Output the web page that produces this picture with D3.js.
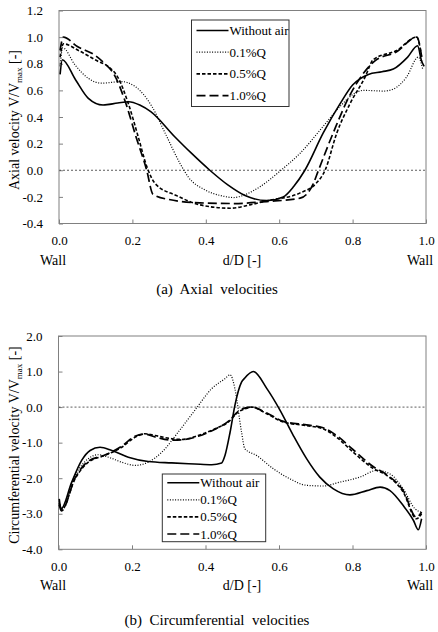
<!DOCTYPE html>
<html>
<head>
<meta charset="utf-8">
<script src="https://cdn.jsdelivr.net/npm/d3@7"></script>
<style>
    body { margin: 0; background: #fff; }
    svg { display: block; }
    svg text { font-family: "Liberation Serif", "Times New Roman", serif; fill: #000; }
</style>
</head>
<body>
<div id="chart"></div>
<script>
// ---- data ----
const xTicks = [0, 0.2, 0.4, 0.6, 0.8, 1.0];
const axialTicks = [-0.4, -0.2, 0, 0.2, 0.4, 0.6, 0.8, 1.0, 1.2];
const circTicks = [-4, -3, -2, -1, 0, 1, 2];
const seriesNames = ['Without air', '0.1%Q', '0.5%Q', '1.0%Q'];

const axialNoAir = [[0.003,0.72],[0.009,0.83],[0.045,0.68],[0.08,0.54],[0.12,0.49],[0.16,0.505],[0.19,0.515],[0.22,0.49],[0.25,0.44],[0.316,0.25],[0.36,0.13],[0.411,0.0],[0.46,-0.11],[0.507,-0.19],[0.566,-0.228],[0.611,-0.2],[0.64,-0.12],[0.67,0.0],[0.72,0.28],[0.766,0.5],[0.80,0.64],[0.843,0.72],[0.88,0.74],[0.911,0.76],[0.95,0.85],[0.977,0.935],[0.988,0.82],[0.995,0.78]];
const axialAir01 = [[0.003,0.78],[0.01,0.92],[0.044,0.79],[0.08,0.69],[0.116,0.654],[0.17,0.666],[0.207,0.63],[0.253,0.48],[0.289,0.28],[0.33,0.05],[0.352,-0.05],[0.398,-0.148],[0.44,-0.19],[0.475,-0.205],[0.51,-0.18],[0.548,-0.123],[0.605,0.0],[0.657,0.128],[0.72,0.33],[0.766,0.48],[0.807,0.58],[0.83,0.60],[0.884,0.595],[0.911,0.61],[0.947,0.70],[0.979,0.85],[0.991,0.76]];
const axialAir05 = [[0.003,0.85],[0.012,0.95],[0.053,0.90],[0.107,0.817],[0.134,0.78],[0.162,0.69],[0.189,0.50],[0.216,0.25],[0.239,0.03],[0.262,-0.10],[0.32,-0.19],[0.384,-0.26],[0.466,-0.285],[0.52,-0.26],[0.566,-0.23],[0.657,-0.17],[0.70,-0.1],[0.725,0.0],[0.757,0.28],[0.793,0.5],[0.834,0.70],[0.856,0.83],[0.92,0.90],[0.975,1.0],[0.988,0.85]];
const axialAir10 = [[0.003,0.90],[0.012,1.0],[0.05,0.93],[0.10,0.86],[0.125,0.80],[0.15,0.72],[0.18,0.52],[0.21,0.25],[0.239,0.0],[0.256,-0.18],[0.30,-0.22],[0.384,-0.245],[0.475,-0.25],[0.566,-0.235],[0.657,-0.21],[0.693,-0.1],[0.707,0.0],[0.75,0.3],[0.79,0.55],[0.83,0.73],[0.86,0.82],[0.92,0.89],[0.975,1.0],[0.99,0.82]];

const circNoAir = [[0.002,-2.58],[0.007,-2.86],[0.036,-2.11],[0.063,-1.50],[0.086,-1.22],[0.113,-1.13],[0.145,-1.22],[0.19,-1.41],[0.244,-1.53],[0.308,-1.57],[0.371,-1.60],[0.417,-1.62],[0.444,-1.57],[0.453,-1.36],[0.467,-0.70],[0.48,0.05],[0.498,0.70],[0.507,0.82],[0.53,1.0],[0.567,0.52],[0.603,-0.09],[0.639,-0.80],[0.675,-1.45],[0.711,-1.97],[0.748,-2.30],[0.793,-2.47],[0.839,-2.35],[0.875,-2.25],[0.902,-2.35],[0.938,-2.77],[0.966,-3.19],[0.979,-3.45],[0.988,-3.14]];
const circAir01 = [[0.002,-2.65],[0.008,-2.85],[0.045,-1.92],[0.081,-1.45],[0.108,-1.34],[0.136,-1.41],[0.172,-1.55],[0.208,-1.64],[0.244,-1.55],[0.281,-1.27],[0.326,-0.70],[0.371,-0.09],[0.417,0.52],[0.453,0.80],[0.467,0.91],[0.48,0.52],[0.498,-0.70],[0.507,-1.17],[0.539,-1.36],[0.584,-1.73],[0.63,-2.02],[0.675,-2.20],[0.72,-2.22],[0.766,-2.11],[0.82,-1.97],[0.866,-1.78],[0.902,-1.88],[0.938,-2.30],[0.97,-2.86],[0.988,-2.96]];
const circAir05 = [[0.002,-2.7],[0.008,-2.9],[0.045,-2.02],[0.081,-1.55],[0.126,-1.36],[0.172,-1.13],[0.208,-0.85],[0.235,-0.75],[0.263,-0.80],[0.308,-0.89],[0.335,-0.91],[0.38,-0.80],[0.426,-0.61],[0.462,-0.42],[0.489,-0.14],[0.507,-0.05],[0.526,0.0],[0.567,-0.19],[0.612,-0.42],[0.675,-0.52],[0.72,-0.61],[0.757,-0.85],[0.802,-1.27],[0.857,-1.73],[0.893,-1.92],[0.938,-2.39],[0.974,-3.14],[0.988,-3.0]];
const circAir10 = [[0.002,-2.75],[0.008,-2.92],[0.045,-2.0],[0.081,-1.52],[0.126,-1.35],[0.172,-1.10],[0.208,-0.82],[0.235,-0.76],[0.263,-0.84],[0.308,-0.93],[0.335,-0.92],[0.38,-0.82],[0.426,-0.62],[0.462,-0.40],[0.489,-0.12],[0.507,-0.03],[0.526,0.0],[0.567,-0.17],[0.612,-0.40],[0.675,-0.50],[0.72,-0.58],[0.757,-0.80],[0.802,-1.20],[0.857,-1.68],[0.893,-1.90],[0.938,-2.35],[0.974,-3.10],[0.988,-2.95]];

// line styles per series: solid, dotted, short dash, long dash
const lineStyles = [
    { dash: null, width: 1.6 },
    { dash: '1,1.6', width: 1.2 },
    { dash: '3.5,2', width: 1.6 },
    { dash: '9,4', width: 1.7 }
];
const serif = '"Liberation Serif", "Times New Roman", serif';

const svg = d3.select('#chart').append('svg')
    .attr('width', 438)
    .attr('height', 632);

class VelocityPanel {
    constructor(series, config) {
        this.series = series;
        this.config = config;
        this.initViz();
    }

    initViz() {
        const that = this;
        const c = that.config;

        that.xScale = d3.scaleLinear().domain([0, 1]).range([c.left, c.right]);
        that.yScale = d3.scaleLinear().domain(c.yDomain).range([c.bottom, c.top]);

        that.g = svg.append('g');

        // x axis (ticks point inward)
        const xAxis = that.g.append('g')
            .attr('transform', `translate(0, ${c.bottom})`)
            .call(d3.axisBottom(that.xScale).tickValues(xTicks).tickSize(-4).tickPadding(12)
                .tickFormat(d => d.toFixed(1)));

        const yAxis = that.g.append('g')
            .attr('transform', `translate(${c.left}, 0)`)
            .call(d3.axisLeft(that.yScale).tickValues(c.yTicks).tickSize(-4).tickPadding(16)
                .tickFormat(d => d.toFixed(1)));

        [xAxis, yAxis].forEach(a => {
            a.attr('font-family', serif).attr('font-size', 13);
            a.select('.domain').remove();
            a.selectAll('.tick line').attr('stroke', '#808080');
            a.selectAll('.tick text').attr('fill', '#000');
        });

        // zero line
        that.g.append('line')
            .attr('x1', c.left).attr('x2', c.right)
            .attr('y1', that.yScale(0)).attr('y2', that.yScale(0))
            .attr('stroke', '#333')
            .attr('stroke-width', 0.8)
            .attr('stroke-dasharray', '2,2');

        // plot border
        that.g.append('rect')
            .attr('x', c.left).attr('y', c.top)
            .attr('width', c.right - c.left).attr('height', c.bottom - c.top)
            .attr('fill', 'none')
            .attr('stroke', '#808080')
            .attr('stroke-width', 1);

        // curves
        const line = d3.line()
            .x(d => that.xScale(d[0]))
            .y(d => that.yScale(d[1]))
            .curve(d3.curveMonotoneX);

        that.g.selectAll('.curve')
            .data(that.series)
            .join('path')
            .attr('class', 'curve')
            .attr('d', d => line(d))
            .attr('fill', 'none')
            .attr('stroke', '#000')
            .attr('stroke-width', (d, i) => lineStyles[i].width)
            .attr('stroke-dasharray', (d, i) => lineStyles[i].dash);

        that.renderLabels();
        that.renderLegend();
    }

    renderLabels() {
        const that = this;
        const c = that.config;
        const labelY = c.bottom + 41;

        that.g.append('text').attr('x', 53).attr('y', labelY)
            .attr('text-anchor', 'middle').attr('font-size', 14).text('Wall');
        that.g.append('text').attr('x', 420).attr('y', labelY)
            .attr('text-anchor', 'middle').attr('font-size', 14).text('Wall');
        that.g.append('text').attr('x', 242).attr('y', labelY)
            .attr('text-anchor', 'middle').attr('font-size', 14).text('d/D [-]');

        that.g.append('text').attr('x', c.captionX).attr('y', c.captionY)
            .attr('text-anchor', 'middle').attr('font-size', 15)
            .style('white-space', 'pre')
            .text(c.caption);

        // rotated y title with subscript
        const title = that.g.append('text')
            .attr('transform', `translate(19, ${c.titleY}) rotate(-90)`)
            .attr('text-anchor', 'middle')
            .attr('font-size', 14);
        title.append('tspan').text(c.yTitle + ' V/V');
        title.append('tspan').attr('dy', 3).attr('font-size', 9).text('max');
        title.append('tspan').attr('dy', -3).text(' [-]');
    }

    renderLegend() {
        const that = this;
        const lg = that.config.legend;

        const box = that.g.append('g');
        box.append('rect')
            .attr('x', lg.x).attr('y', lg.y)
            .attr('width', lg.w).attr('height', lg.h)
            .attr('fill', '#fff')
            .attr('stroke', '#333')
            .attr('stroke-width', 1);

        seriesNames.forEach((name, i) => {
            const cy = lg.y + lg.first + i * lg.step;
            box.append('line')
                .attr('x1', lg.x + 5).attr('x2', lg.x + 37)
                .attr('y1', cy).attr('y2', cy)
                .attr('stroke', '#000')
                .attr('stroke-width', lineStyles[i].width)
                .attr('stroke-dasharray', lineStyles[i].dash);
            box.append('text')
                .attr('x', lg.x + 38).attr('y', cy + 4.5)
                .attr('font-size', 13)
                .text(name);
        });
    }
}

new VelocityPanel([axialNoAir, axialAir01, axialAir05, axialAir10], {
    left: 59, right: 426, top: 10.5, bottom: 223.5,
    yDomain: [-0.4, 1.2], yTicks: axialTicks,
    yTitle: 'Axial velocity', titleY: 120,
    caption: '(a)  Axial  velocities', captionX: 217, captionY: 294,
    legend: { x: 191.5, y: 20, w: 97.5, h: 86.5, first: 10.5, step: 21.7 }
});

new VelocityPanel([circNoAir, circAir01, circAir05, circAir10], {
    left: 58.5, right: 426, top: 336, bottom: 549.3,
    yDomain: [-4, 2], yTicks: circTicks,
    yTitle: 'Circumferential velocity', titleY: 445,
    caption: '(b)  Circumferential  velocities', captionX: 217, captionY: 625,
    legend: { x: 162.3, y: 474, w: 103.4, h: 67.7, first: 8.7, step: 17.1 }
});
</script>
</body>
</html>
